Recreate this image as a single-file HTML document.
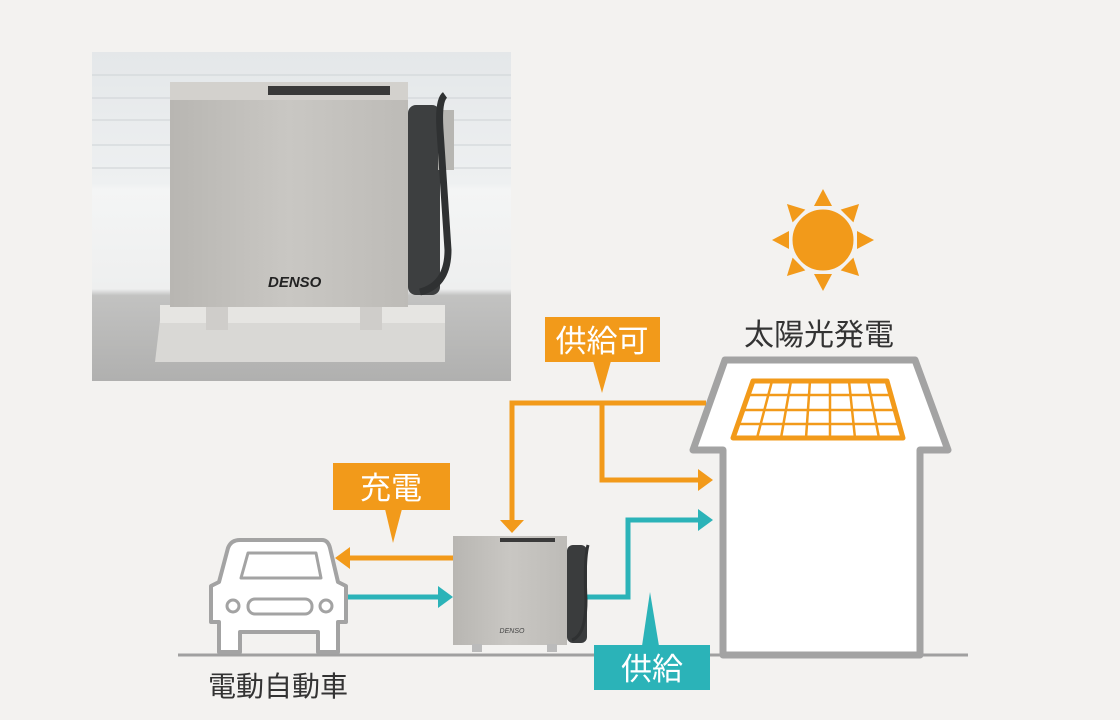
<!DOCTYPE html>
<html><head><meta charset="utf-8"><style>
html,body{margin:0;padding:0;background:#f3f2f0;}
svg{display:block;}
text{font-family:"Liberation Sans","Noto Sans CJK JP",sans-serif;}
</style></head><body>
<svg width="1120" height="720" viewBox="0 0 1120 720" xmlns="http://www.w3.org/2000/svg">
<defs>
<linearGradient id="wall" x1="0" y1="0" x2="0" y2="1">
<stop offset="0" stop-color="#e4e7e9"/><stop offset="0.4" stop-color="#eef0f1"/><stop offset="0.42" stop-color="#f4f5f5"/><stop offset="0.72" stop-color="#eeefef"/><stop offset="0.74" stop-color="#c2c2c1"/><stop offset="1" stop-color="#b0b0af"/>
</linearGradient>
<linearGradient id="body" x1="0" y1="0" x2="1" y2="0">
<stop offset="0" stop-color="#b8b6b2"/><stop offset="0.5" stop-color="#c9c7c3"/><stop offset="1" stop-color="#bdbbb7"/>
</linearGradient>
</defs>
<rect width="1120" height="720" fill="#f3f2f0"/>
<!-- photo -->
<rect x="92" y="52" width="419" height="329" fill="url(#wall)"/>
<g stroke="#d3d7da" stroke-width="1.5" opacity="0.8">
<line x1="92" y1="75" x2="511" y2="75"/><line x1="92" y1="98" x2="511" y2="98"/><line x1="92" y1="120" x2="511" y2="120"/><line x1="92" y1="145" x2="511" y2="145"/><line x1="92" y1="168" x2="511" y2="168"/>
</g>
<polygon points="160,320 445,320 445,362 155,362" fill="#d9d8d5"/>
<rect x="160" y="305" width="285" height="18" fill="#e6e5e2"/>
<rect x="206" y="300" width="22" height="30" fill="#cfcdca"/><rect x="360" y="300" width="22" height="30" fill="#cfcdca"/>
<rect x="170" y="82" width="238" height="225" fill="url(#body)"/>
<rect x="170" y="82" width="238" height="18" fill="#d3d1cd"/>
<rect x="268" y="86" width="122" height="9" fill="#3a3a3a"/>
<text x="268" y="287" font-size="15" font-style="italic" font-weight="bold" fill="#222">DENSO</text>
<rect x="408" y="105" width="32" height="190" rx="8" fill="#3d3f40"/>
<rect x="438" y="110" width="16" height="60" fill="#b7b6b2"/>
<path d="M445 95 Q438 100 440 130 L448 250 Q448 285 420 292" fill="none" stroke="#2f3132" stroke-width="7"/>
<!-- ground -->
<line x1="178" y1="655" x2="968" y2="655" stroke="#a0a0a0" stroke-width="3"/>
<!-- house -->
<polygon points="725,360 915,360 948,450 920,450 920,655 723,655 723,450 693,450" fill="#fff" stroke="#a3a3a3" stroke-width="7" stroke-linejoin="round"/>
<!-- solar panel -->
<g stroke="#f29a1a" fill="none">
<polygon points="753,381 887,381 903,438 733,438" stroke-width="5" stroke-linejoin="round"/>
<g stroke-width="2.5">
<line x1="748" y1="395" x2="891" y2="395"/><line x1="743" y1="410" x2="895" y2="410"/><line x1="738" y1="424" x2="899" y2="424"/>
<line x1="772" y1="381" x2="757" y2="438"/><line x1="791" y1="381" x2="781" y2="438"/><line x1="810" y1="381" x2="806" y2="438"/><line x1="830" y1="381" x2="830" y2="438"/><line x1="849" y1="381" x2="855" y2="438"/><line x1="868" y1="381" x2="879" y2="438"/>
</g></g>
<!-- sun -->
<g fill="#f29a1a">
<g id="ray"><polygon points="823,189 814,206 832,206"/></g>
<use href="#ray" transform="rotate(45 823 240)"/><use href="#ray" transform="rotate(90 823 240)"/><use href="#ray" transform="rotate(135 823 240)"/><use href="#ray" transform="rotate(180 823 240)"/><use href="#ray" transform="rotate(225 823 240)"/><use href="#ray" transform="rotate(270 823 240)"/><use href="#ray" transform="rotate(315 823 240)"/>
<circle cx="823" cy="240" r="32" stroke="#f3f2f0" stroke-width="3"/>
</g>
<text x="819" y="345" font-size="30" fill="#333" text-anchor="middle">太陽光発電</text>
<!-- orange lines -->
<g stroke="#f29a1a" stroke-width="5" fill="none">
<polyline points="706,403 512,403 512,522"/>
<polyline points="602,403 602,480 700,480"/>
<line x1="453" y1="558" x2="348" y2="558"/>
</g>
<g fill="#f29a1a">
<polygon points="500,520 524,520 512,533"/>
<polygon points="698,469 698,491 713,480"/>
<polygon points="350,547 350,569 335,558"/>
<rect x="545" y="317" width="115" height="45"/>
<polygon points="593,361 611,361 602,393"/>
<rect x="333" y="463" width="117" height="47"/>
<polygon points="385,509 402,509 393,543"/>
</g>
<text x="602" y="352" font-size="31" fill="#fff" text-anchor="middle">供給可</text>
<text x="391" y="499" font-size="31" fill="#fff" text-anchor="middle">充電</text>
<!-- teal lines -->
<g stroke="#2bb3b8" stroke-width="5" fill="none">
<line x1="343" y1="597" x2="440" y2="597"/>
<polyline points="585,597 628,597 628,520 700,520"/>
</g>
<g fill="#2bb3b8">
<polygon points="438,586 438,608 453,597"/>
<polygon points="698,509 698,531 713,520"/>
<rect x="594" y="645" width="116" height="45"/>
<polygon points="642,646 659,646 650,592"/>
</g>
<text x="652" y="680" font-size="31" fill="#fff" text-anchor="middle">供給</text>
<!-- device small -->
<rect x="567" y="545" width="20" height="98" rx="6" fill="#3a3c3d"/>
<path d="M588 545 Q584 560 586 600 Q586 635 572 640" fill="none" stroke="#2f3132" stroke-width="3"/>
<rect x="453" y="536" width="114" height="109" fill="url(#body)"/>
<rect x="500" y="538" width="55" height="4" fill="#3a3a3a"/>
<text x="512" y="633" font-size="7" font-style="italic" fill="#444" text-anchor="middle">DENSO</text>
<rect x="472" y="644" width="10" height="8" fill="#bbb"/><rect x="547" y="644" width="10" height="8" fill="#bbb"/>
<!-- car -->
<g fill="#fff" stroke="#a3a3a3" stroke-width="4" stroke-linejoin="round">
<path d="M240 540 L322 540 Q328 540 330 548 L338 582 L346 586 L346 622 L338 622 L338 652 L318 652 L318 632 L240 632 L240 652 L219 652 L219 622 L211 622 L211 586 L219 582 L228 548 Q231 540 240 540 Z"/>
<path d="M248 553 L316 553 L321 578 L241 578 Z" stroke-width="3"/>
<rect x="248" y="599" width="64" height="15" rx="7" stroke-width="3"/>
<circle cx="233" cy="606" r="6" stroke-width="3"/><circle cx="326" cy="606" r="6" stroke-width="3"/>
</g>
<text x="278" y="696" font-size="28" fill="#333" text-anchor="middle">電動自動車</text>
</svg>
</body></html>
